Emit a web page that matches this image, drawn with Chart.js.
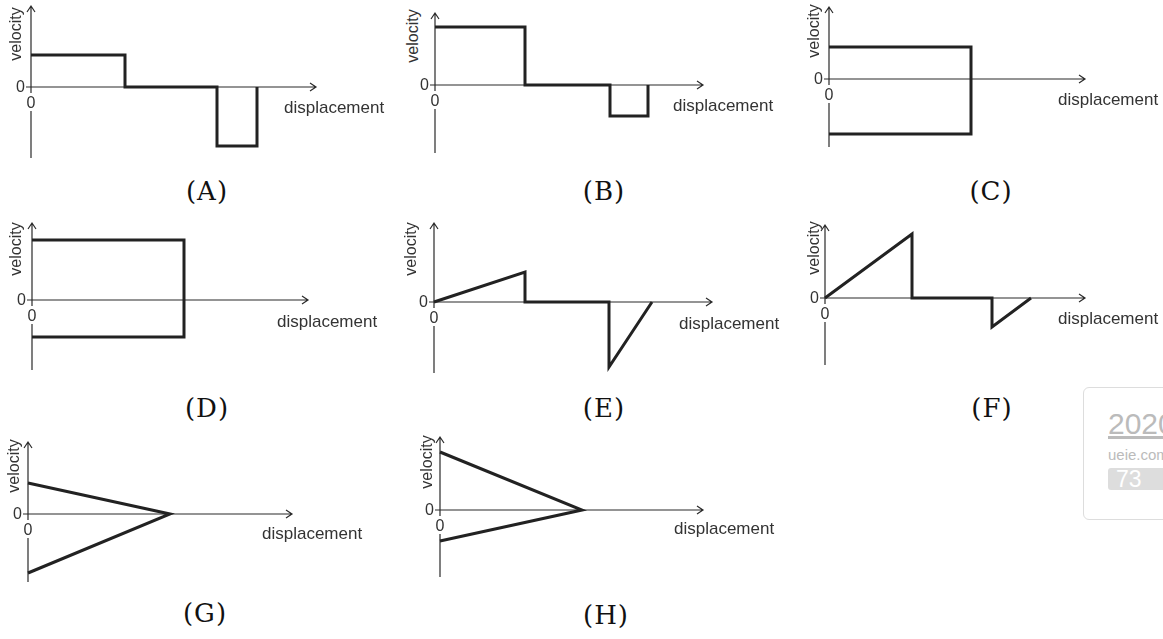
<!DOCTYPE html>
<html lang="en">
<head>
  <meta charset="UTF-8" />
  <title>Velocity vs displacement - options A to H</title>
  <script src="https://cdn.jsdelivr.net/npm/chart.js"></script>
  <style>
    body { margin: 0; width: 1163px; height: 639px; background: #fff; position: relative; overflow: hidden; font-family: "Liberation Sans", Arial, sans-serif; color: #333; }
    canvas { position: absolute; }
    .lbl { position: absolute; white-space: nowrap; line-height: 1; }
    .vel { font-size: 16px; transform: translate(-50%, -50%) rotate(-90deg); }
    .disp { font-size: 17px; transform: translateY(-50%); }
    .zero { font-size: 16px; }
    .zl { transform: translate(-100%, -50%); }
    .zb { transform: translate(-50%, -50%); }
    .cap { font-family: "DejaVu Serif", "Liberation Serif", serif; font-size: 26px; letter-spacing: 1px; color: #111; transform: translate(-50%, -50%); }
    .badge { position: absolute; left: 1083px; top: 387px; width: 100px; height: 131px; border: 1px solid #ddd; border-radius: 6px; }
  </style>
</head>
<body>

<script>
  // values (displacement, velocity), origin = 0,0
  const dispA = [0, 94, 94, 186, 186, 226, 226];
  const velA  = [32, 32, 0, 0, -59, -59, 0];
  const dispB = [0, 90, 90, 175, 175, 213, 213];
  const velB  = [58, 58, 0, 0, -31, -31, 0];
  const dispC = [0, 142, 142, 0];
  const velC  = [32, 32, -55, -55];
  const dispD = [0, 152, 152, 0];
  const velD  = [60, 60, -37, -37];
  const dispE = [0, 91, 91, 175, 175, 218];
  const velE  = [0, 30, 0, 0, -65, 0];
  const dispF = [0, 87, 87, 167, 167, 206];
  const velF  = [0, 64, 0, 0, -29, 0];
  const dispG = [0, 142, 0];
  const velG  = [31, 0, -59];
  const dispH = [0, 142, 0];
  const velH  = [58, 0, -31];

  const captions = ['(A)', '(B)', '(C)', '(D)', '(E)', '(F)', '(G)', '(H)'];
  const xTitle = 'displacement';
  const yTitle = 'velocity';
  const zeroTick = '0';
</script>

<div class="badge">
  <div class="lbl" style="left:24px;top:21px;font-size:30px;color:#bbb;text-decoration:underline;">2020</div>
  <div class="lbl" style="left:24px;top:59px;font-size:15px;color:#bbb;">ueie.com</div>
  <div style="position:absolute;left:24px;top:80px;width:80px;height:22px;border-radius:3px;background:#ddd;color:#fff;font-size:23px;line-height:22px;padding-left:8px;">73</div>
</div>

<script>
  // layout of each panel: origin in page pixels, axis lengths, label spots
  const panels = [
    { d: dispA, v: velA, ox: 31,  oy: 87,  xEnd: 285, yTop: 81, yBot: 71, vx: 16,  vy: 34,  dx: 284,  dy: 107, cx: 207, cy: 191 },
    { d: dispB, v: velB, ox: 435, oy: 85,  xEnd: 268, yTop: 72, yBot: 68, vx: 413, vy: 36,  dx: 673,  dy: 105, cx: 604, cy: 191 },
    { d: dispC, v: velC, ox: 829, oy: 79,  xEnd: 256, yTop: 72, yBot: 68, vx: 814, vy: 31,  dx: 1058, dy: 99,  cx: 991, cy: 191 },
    { d: dispD, v: velD, ox: 32,  oy: 300, xEnd: 276, yTop: 77, yBot: 70, vx: 16,  vy: 249, dx: 277,  dy: 321, cx: 207, cy: 408 },
    { d: dispE, v: velE, ox: 434, oy: 302, xEnd: 278, yTop: 79, yBot: 71, vx: 411, vy: 249, dx: 679,  dy: 323, cx: 604, cy: 408 },
    { d: dispF, v: velF, ox: 825, oy: 298, xEnd: 260, yTop: 73, yBot: 67, vx: 814, vy: 248, dx: 1058, dy: 318, cx: 992, cy: 408 },
    { d: dispG, v: velG, ox: 28,  oy: 514, xEnd: 264, yTop: 72, yBot: 68, vx: 14,  vy: 466, dx: 262,  dy: 533, cx: 205, cy: 613 },
    { d: dispH, v: velH, ox: 440, oy: 510, xEnd: 263, yTop: 73, yBot: 67, vx: 427, vy: 462, dx: 674,  dy: 528, cx: 606, cy: 615 }
  ];

  const PADL = 10, PADR = 4, PADV = 4;

  // arrowed axes through the origin, drawn from the chart's own scales;
  // the y axis is broken where the lower "0" sits
  const arrowAxes = {
    id: 'arrowAxes',
    beforeDatasetsDraw(chart, args, opts) {
      const { ctx, scales: { x, y } } = chart;
      const x0 = x.getPixelForValue(0), y0 = y.getPixelForValue(0);
      const xl = x.getPixelForValue(-5), xr = x.getPixelForValue(opts.xEnd);
      const yt = y.getPixelForValue(opts.yTop), yb = y.getPixelForValue(-opts.yBot);
      const g1 = y.getPixelForValue(-6), g2 = y.getPixelForValue(-24);
      ctx.save();
      ctx.strokeStyle = '#2a2a2a';
      ctx.lineWidth = 1.2;
      ctx.beginPath();
      ctx.moveTo(xl, y0); ctx.lineTo(xr, y0);
      ctx.moveTo(x0, g1); ctx.lineTo(x0, yt);
      ctx.moveTo(x0, yb); ctx.lineTo(x0, g2);
      // open arrow heads
      ctx.moveTo(xr - 6, y0 - 4); ctx.lineTo(xr, y0); ctx.lineTo(xr - 6, y0 + 4);
      ctx.moveTo(x0 - 4, yt + 6); ctx.lineTo(x0, yt); ctx.lineTo(x0 + 4, yt + 6);
      ctx.stroke();
      ctx.restore();
    }
  };

  function addLabel(cls, text, left, top) {
    const el = document.createElement('div');
    el.className = 'lbl ' + cls;
    el.textContent = text;
    el.style.left = left + 'px';
    el.style.top = top + 'px';
    document.body.appendChild(el);
  }

  panels.forEach((p, i) => {
    const cv = document.createElement('canvas');
    const w = p.xEnd + PADL + PADR, h = p.yTop + p.yBot + 2 * PADV;
    cv.width = w; cv.height = h;
    cv.style.left = (p.ox - PADL) + 'px';
    cv.style.top = (p.oy - p.yTop - PADV) + 'px';
    document.body.appendChild(cv);

    new Chart(cv, {
      type: 'scatter',
      data: {
        datasets: [{
          data: p.d.map((d, k) => ({ x: d, y: p.v[k] })),
          showLine: true,
          borderColor: '#222',
          borderWidth: 3,
          borderJoinStyle: 'miter',
          pointRadius: 0,
          tension: 0,
          clip: false
        }]
      },
      options: {
        responsive: false,
        animation: false,
        layout: { padding: 0 },
        plugins: {
          legend: { display: false },
          tooltip: { enabled: false },
          arrowAxes: { xEnd: p.xEnd, yTop: p.yTop, yBot: p.yBot }
        },
        scales: {
          x: { type: 'linear', display: false, min: -PADL, max: p.xEnd + PADR },
          y: { type: 'linear', display: false, min: -(p.yBot + PADV), max: p.yTop + PADV }
        }
      },
      plugins: [arrowAxes]
    });

    addLabel('vel', yTitle, p.vx, p.vy);
    addLabel('disp', xTitle, p.dx, p.dy);
    addLabel('zero zl', zeroTick, p.ox - 6, p.oy);
    addLabel('zero zb', zeroTick, p.ox, p.oy + 16);
    addLabel('cap', captions[i], p.cx, p.cy);
  });
</script>

</body>
</html>
